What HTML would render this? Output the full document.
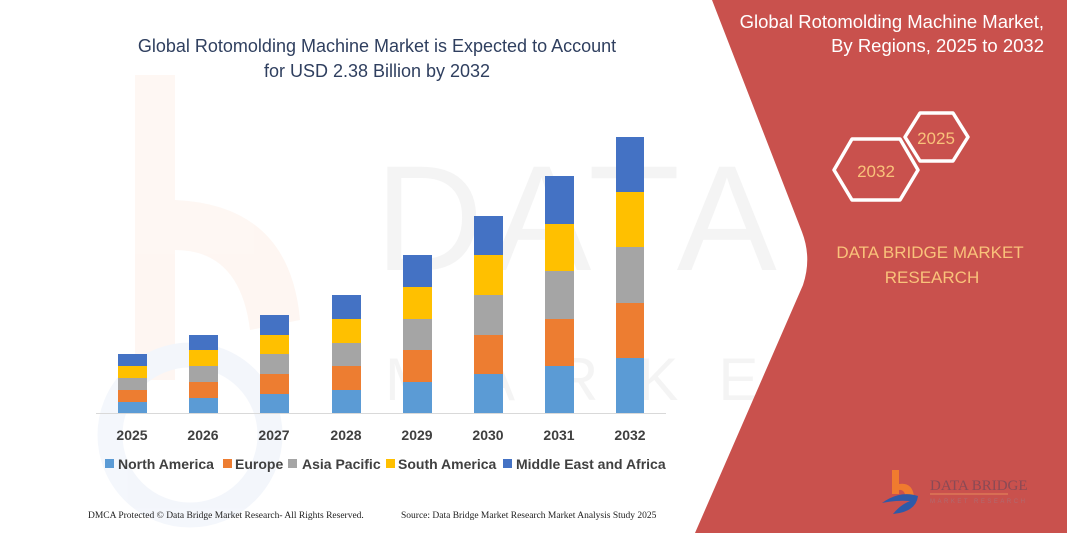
<!DOCTYPE html>
<html><head><meta charset="utf-8"><style>
html,body{margin:0;padding:0;background:#fff;width:1067px;height:533px;overflow:hidden;}
svg{display:block}
</style></head><body>
<svg width="1067" height="533" viewBox="0 0 1067 533" xmlns="http://www.w3.org/2000/svg" font-family="Liberation Sans, sans-serif">
<rect width="1067" height="533" fill="#fff"/>
<g opacity="0.06">
<path d="M135 75 L175 75 L175 200 Q290 205 300 320 L250 330 Q240 250 175 250 L175 380 L135 380 Z" fill="#f07b2f"/>
<text x="375" y="270" font-size="150" fill="#555" letter-spacing="8">DATA</text>
<text x="385" y="400" font-size="60" fill="#555" letter-spacing="40">MARKE</text>
<circle cx="190" cy="435" r="80" fill="none" stroke="#4472c4" stroke-width="25"/>
</g>
<path d="M712 0 L1067 0 L1067 533 L695 533 L803 285 Q812 258 802 232 Z" fill="#c9514d"/>
<g font-size="18" fill="#2f3f5f" text-anchor="middle">
<text x="377" y="52">Global Rotomolding Machine Market is Expected to Account</text>
<text x="377" y="77">for USD 2.38 Billion by 2032</text>
</g>
<line x1="96" y1="413.5" x2="666" y2="413.5" stroke="#d9d9d9" stroke-width="1"/>
<g>
<rect x="118" y="402" width="29" height="11" fill="#5b9bd5"/><rect x="118" y="390" width="29" height="12" fill="#ed7d31"/><rect x="118" y="378" width="29" height="12" fill="#a5a5a5"/><rect x="118" y="366" width="29" height="12" fill="#ffc000"/><rect x="118" y="354" width="29" height="12" fill="#4472c4"/>
<rect x="189" y="398" width="29" height="15" fill="#5b9bd5"/><rect x="189" y="382" width="29" height="16" fill="#ed7d31"/><rect x="189" y="366" width="29" height="16" fill="#a5a5a5"/><rect x="189" y="350" width="29" height="16" fill="#ffc000"/><rect x="189" y="335" width="29" height="15" fill="#4472c4"/>
<rect x="260" y="394" width="29" height="19" fill="#5b9bd5"/><rect x="260" y="374" width="29" height="20" fill="#ed7d31"/><rect x="260" y="354" width="29" height="20" fill="#a5a5a5"/><rect x="260" y="335" width="29" height="19" fill="#ffc000"/><rect x="260" y="315" width="29" height="20" fill="#4472c4"/>
<rect x="332" y="390" width="29" height="23" fill="#5b9bd5"/><rect x="332" y="366" width="29" height="24" fill="#ed7d31"/><rect x="332" y="343" width="29" height="23" fill="#a5a5a5"/><rect x="332" y="319" width="29" height="24" fill="#ffc000"/><rect x="332" y="295" width="29" height="24" fill="#4472c4"/>
<rect x="403" y="382" width="29" height="31" fill="#5b9bd5"/><rect x="403" y="350" width="29" height="32" fill="#ed7d31"/><rect x="403" y="319" width="29" height="31" fill="#a5a5a5"/><rect x="403" y="287" width="29" height="32" fill="#ffc000"/><rect x="403" y="255" width="29" height="32" fill="#4472c4"/>
<rect x="474" y="374" width="29" height="39" fill="#5b9bd5"/><rect x="474" y="335" width="29" height="39" fill="#ed7d31"/><rect x="474" y="295" width="29" height="40" fill="#a5a5a5"/><rect x="474" y="255" width="29" height="40" fill="#ffc000"/><rect x="474" y="216" width="29" height="39" fill="#4472c4"/>
<rect x="545" y="366" width="29" height="47" fill="#5b9bd5"/><rect x="545" y="319" width="29" height="47" fill="#ed7d31"/><rect x="545" y="271" width="29" height="48" fill="#a5a5a5"/><rect x="545" y="224" width="29" height="47" fill="#ffc000"/><rect x="545" y="176" width="29" height="48" fill="#4472c4"/>
<rect x="616" y="358" width="28" height="55" fill="#5b9bd5"/><rect x="616" y="303" width="28" height="55" fill="#ed7d31"/><rect x="616" y="247" width="28" height="56" fill="#a5a5a5"/><rect x="616" y="192" width="28" height="55" fill="#ffc000"/><rect x="616" y="137" width="28" height="55" fill="#4472c4"/>
</g>
<g font-size="14" font-weight="bold" fill="#404040" text-anchor="middle">
<text x="132" y="440">2025</text><text x="203" y="440">2026</text><text x="274" y="440">2027</text><text x="346" y="440">2028</text><text x="417" y="440">2029</text><text x="488" y="440">2030</text><text x="559" y="440">2031</text><text x="630" y="440">2032</text>
</g>
<g font-size="14" font-weight="bold" fill="#404040">
<rect x="105" y="459" width="9" height="9" fill="#5b9bd5"/><text x="118" y="469">North America</text>
<rect x="223" y="459" width="9" height="9" fill="#ed7d31"/><text x="235" y="469">Europe</text>
<rect x="288" y="459" width="9" height="9" fill="#a5a5a5"/><text x="302" y="469">Asia Pacific</text>
<rect x="386" y="459" width="9" height="9" fill="#ffc000"/><text x="398" y="469">South America</text>
<rect x="503" y="459" width="9" height="9" fill="#4472c4"/><text x="516" y="469">Middle East and Africa</text>
</g>
<g font-family="Liberation Serif, serif" font-size="9.5" fill="#222">
<text x="88" y="518">DMCA Protected © Data Bridge Market Research-  All Rights Reserved.</text>
<text x="401" y="518">Source: Data Bridge Market Research  Market Analysis Study 2025</text>
</g>
<g font-size="18.5" fill="#fff" text-anchor="end">
<text x="1044" y="28">Global Rotomolding Machine Market,</text>
<text x="1044" y="52">By Regions, 2025 to 2032</text>
</g>
<polygon points="905,137 920,113 953,113 968,137 953,161 920,161" fill="none" stroke="#fff" stroke-width="3.5" stroke-linejoin="round"/>
<polygon points="834,170 852,139 900,139 918,170 900,200 852,200" fill="none" stroke="#fff" stroke-width="3.5" stroke-linejoin="round"/>
<g font-size="17" fill="#f9c27a" text-anchor="middle">
<text x="936" y="144">2025</text>
<text x="876" y="177">2032</text>
<text x="930" y="258">DATA BRIDGE MARKET</text>
<text x="932" y="283">RESEARCH</text>
</g>
<path d="M892 470 L899 470 L899 484 Q912 482 914 496 L906 497 Q904 489 899 490 L899 494 L892 494 Z" fill="#f07b2f"/>
<path d="M882 503 Q900 490 918 496 Q916 512 893 514 Q900 505 910 501 Q896 500 882 503 Z" fill="#2e5aa8"/>
<text x="930" y="490" font-family="Liberation Serif, serif" font-size="15" fill="#8a4a55">DATA BRIDGE</text>
<line x1="930" y1="494" x2="1008" y2="494" stroke="#e88a5a" stroke-width="1"/>
<text x="930" y="503" font-size="6" fill="#b06a70" letter-spacing="2.5">MARKET RESEARCH</text>
</svg>
</body></html>
